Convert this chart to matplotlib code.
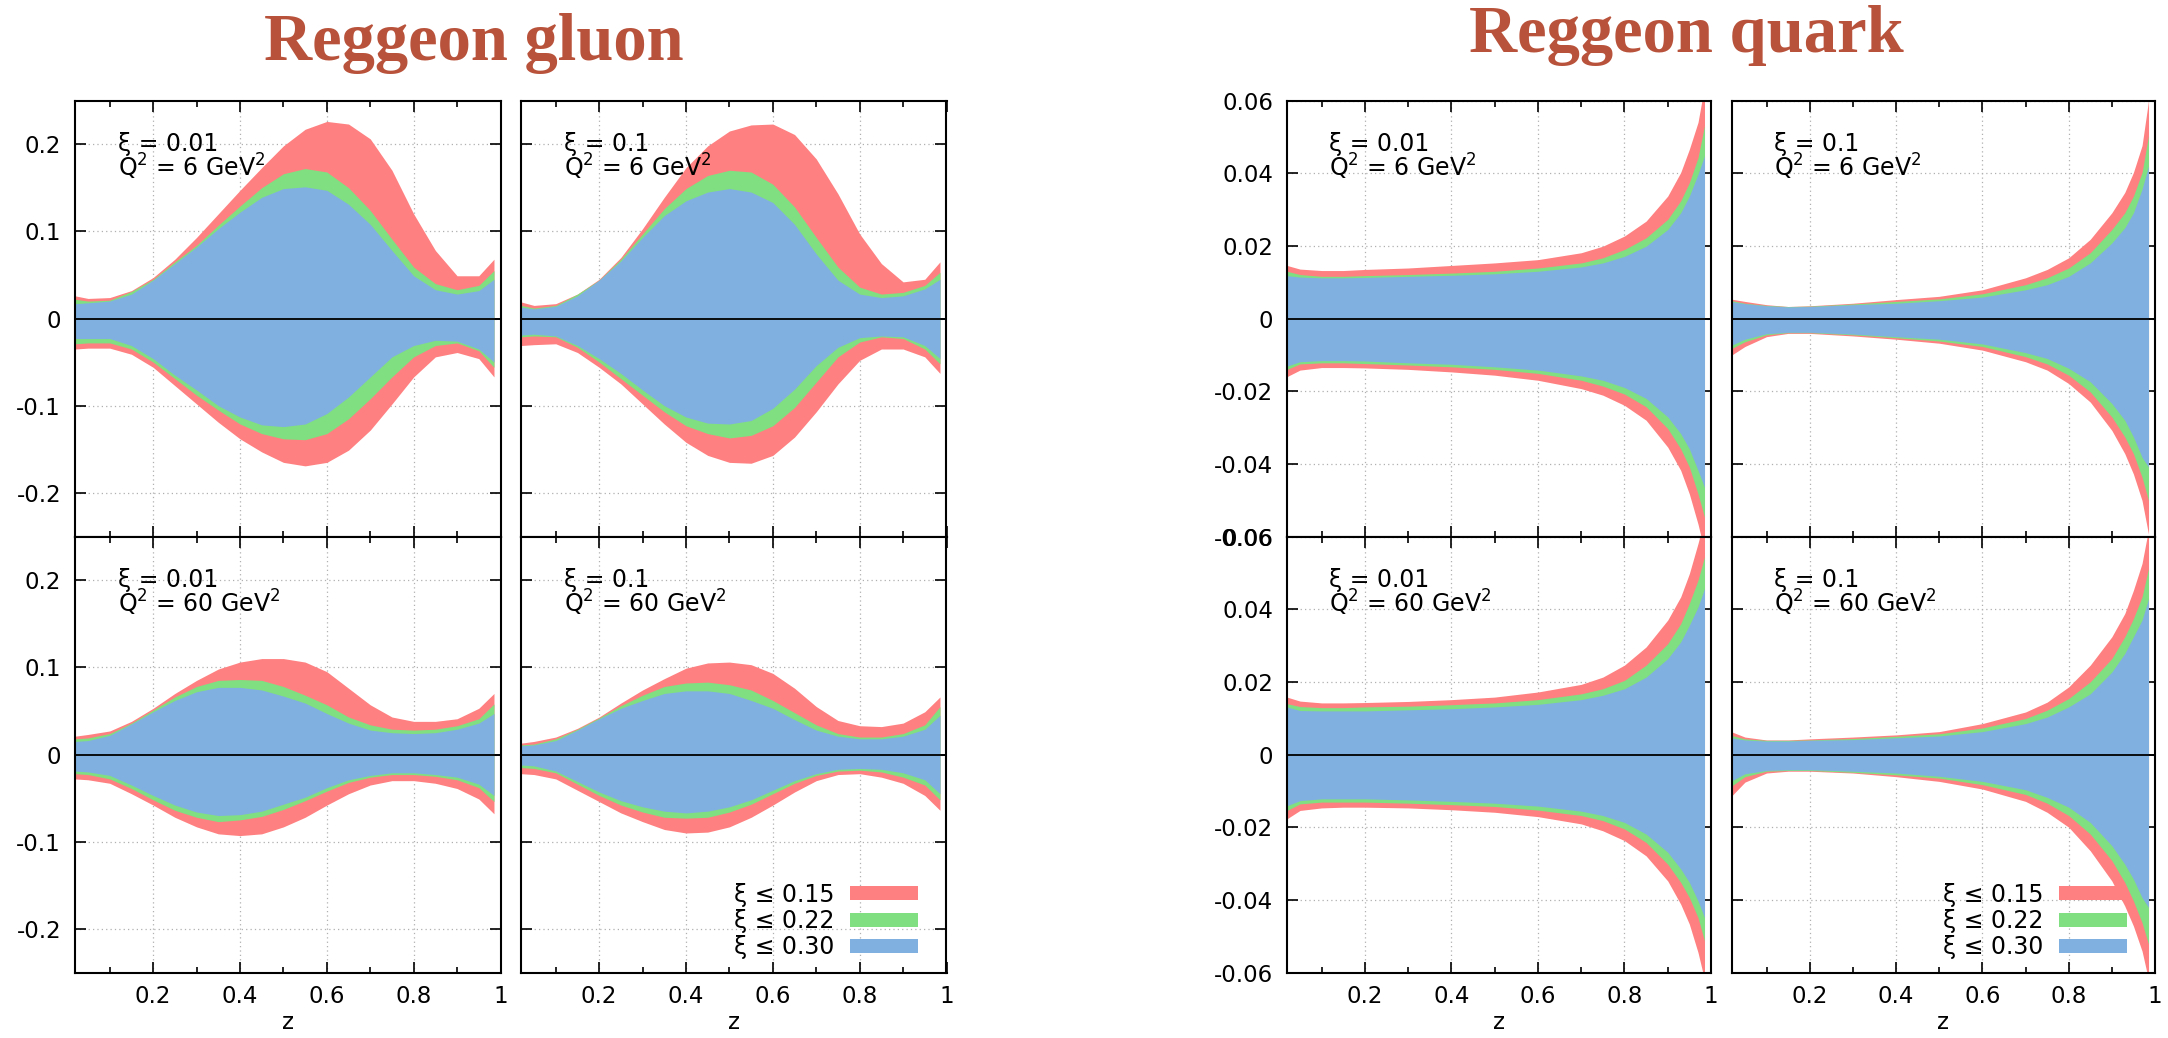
import matplotlib
matplotlib.use("Agg")
import matplotlib.pyplot as plt

plt.rcParams['font.family'] = ['DejaVu Sans']
plt.rcParams['axes.unicode_minus'] = False
plt.rcParams['mathtext.fontset'] = 'dejavusans'

# z grids for the two parton types
z_gluon = [0.02, 0.05, 0.1, 0.15, 0.2, 0.25, 0.3, 0.35, 0.4, 0.45, 0.5,
           0.55, 0.6, 0.65, 0.7, 0.75, 0.8, 0.85, 0.9, 0.95, 0.985]
z_quark = [0.02, 0.05, 0.1, 0.15, 0.2, 0.3, 0.4, 0.5, 0.6, 0.7, 0.75,
           0.8, 0.85, 0.9, 0.93, 0.95, 0.97, 0.985]

band_labels = ['ξ ≤ 0.15', 'ξ ≤ 0.22', 'ξ ≤ 0.30']
band_colors = ['#ff8080', '#80df80', '#80b0e0']

# gluon, xi = 0.01, Q^2 = 6 GeV^2
ga_red_hi = [0.026, 0.023, 0.024, 0.032, 0.047, 0.068, 0.093, 0.120, 0.147, 0.173, 0.198,
             0.217, 0.226, 0.223, 0.206, 0.170, 0.120, 0.078, 0.049, 0.049, 0.068]
ga_grn_hi = [0.022, 0.020, 0.021, 0.031, 0.045, 0.065, 0.084, 0.107, 0.129, 0.150, 0.166,
             0.172, 0.168, 0.150, 0.124, 0.091, 0.059, 0.040, 0.033, 0.038, 0.055]
ga_blu_hi = [0.017, 0.018, 0.020, 0.028, 0.044, 0.063, 0.082, 0.103, 0.122, 0.139, 0.149,
             0.151, 0.147, 0.131, 0.108, 0.078, 0.049, 0.033, 0.028, 0.032, 0.045]
ga_red_lo = [-0.035, -0.034, -0.034, -0.041, -0.056, -0.077, -0.098, -0.119, -0.138, -0.153, -0.165,
             -0.169, -0.165, -0.151, -0.128, -0.098, -0.067, -0.044, -0.039, -0.046, -0.067]
ga_grn_lo = [-0.029, -0.028, -0.028, -0.035, -0.050, -0.069, -0.088, -0.105, -0.121, -0.132, -0.138,
             -0.139, -0.132, -0.115, -0.092, -0.067, -0.044, -0.031, -0.028, -0.037, -0.056]
ga_blu_lo = [-0.023, -0.023, -0.023, -0.031, -0.046, -0.065, -0.082, -0.100, -0.113, -0.122, -0.124,
             -0.121, -0.109, -0.090, -0.067, -0.044, -0.031, -0.025, -0.026, -0.035, -0.050]

# gluon, xi = 0.1, Q^2 = 6 GeV^2
gb_red_hi = [0.019, 0.015, 0.017, 0.028, 0.045, 0.070, 0.103, 0.139, 0.173, 0.198, 0.215,
             0.222, 0.223, 0.211, 0.183, 0.143, 0.097, 0.063, 0.042, 0.045, 0.065]
gb_grn_hi = [0.015, 0.012, 0.015, 0.028, 0.044, 0.068, 0.097, 0.126, 0.149, 0.164, 0.170,
             0.168, 0.154, 0.128, 0.093, 0.059, 0.036, 0.028, 0.030, 0.038, 0.053]
gb_blu_hi = [0.013, 0.011, 0.014, 0.026, 0.044, 0.066, 0.093, 0.118, 0.135, 0.145, 0.149,
             0.145, 0.133, 0.108, 0.074, 0.044, 0.028, 0.024, 0.026, 0.034, 0.045]
gb_red_lo = [-0.031, -0.030, -0.029, -0.039, -0.056, -0.075, -0.098, -0.121, -0.142, -0.157, -0.165,
             -0.166, -0.157, -0.136, -0.107, -0.075, -0.048, -0.035, -0.035, -0.044, -0.063]
gb_grn_lo = [-0.021, -0.020, -0.021, -0.033, -0.050, -0.069, -0.088, -0.107, -0.123, -0.132, -0.137,
             -0.134, -0.123, -0.102, -0.073, -0.044, -0.027, -0.021, -0.023, -0.035, -0.052]
gb_blu_lo = [-0.019, -0.018, -0.020, -0.031, -0.046, -0.063, -0.082, -0.100, -0.113, -0.120, -0.121,
             -0.117, -0.103, -0.081, -0.054, -0.033, -0.022, -0.020, -0.021, -0.031, -0.046]

# gluon, xi = 0.01, Q^2 = 60 GeV^2
gc_red_hi = [0.021, 0.023, 0.027, 0.038, 0.053, 0.070, 0.085, 0.098, 0.106, 0.110, 0.110,
             0.106, 0.095, 0.076, 0.057, 0.043, 0.038, 0.038, 0.041, 0.053, 0.070]
gc_grn_hi = [0.018, 0.019, 0.024, 0.036, 0.051, 0.066, 0.078, 0.085, 0.086, 0.085, 0.078,
             0.068, 0.057, 0.043, 0.034, 0.029, 0.028, 0.029, 0.033, 0.041, 0.058]
gc_blu_hi = [0.015, 0.016, 0.022, 0.035, 0.049, 0.062, 0.072, 0.077, 0.077, 0.074, 0.067,
             0.059, 0.047, 0.036, 0.028, 0.025, 0.024, 0.025, 0.029, 0.036, 0.047]
gc_red_lo = [-0.028, -0.029, -0.033, -0.045, -0.058, -0.072, -0.083, -0.091, -0.093, -0.091, -0.083,
             -0.072, -0.058, -0.045, -0.035, -0.030, -0.030, -0.033, -0.039, -0.051, -0.068]
gc_grn_lo = [-0.022, -0.023, -0.028, -0.039, -0.052, -0.064, -0.072, -0.077, -0.075, -0.071, -0.063,
             -0.053, -0.042, -0.032, -0.026, -0.023, -0.023, -0.025, -0.029, -0.038, -0.054]
gc_blu_lo = [-0.019, -0.020, -0.024, -0.035, -0.047, -0.058, -0.066, -0.070, -0.069, -0.065, -0.057,
             -0.049, -0.038, -0.029, -0.024, -0.021, -0.021, -0.023, -0.026, -0.034, -0.047]

# gluon, xi = 0.1, Q^2 = 60 GeV^2
gd_red_hi = [0.013, 0.015, 0.020, 0.030, 0.043, 0.059, 0.074, 0.087, 0.099, 0.105, 0.106,
             0.103, 0.093, 0.076, 0.055, 0.039, 0.033, 0.032, 0.036, 0.049, 0.066]
gd_grn_hi = [0.011, 0.012, 0.018, 0.029, 0.042, 0.056, 0.068, 0.078, 0.082, 0.083, 0.080,
             0.074, 0.062, 0.048, 0.034, 0.024, 0.020, 0.020, 0.024, 0.034, 0.055]
gd_blu_hi = [0.010, 0.011, 0.016, 0.028, 0.041, 0.053, 0.062, 0.070, 0.073, 0.073, 0.070,
             0.062, 0.053, 0.040, 0.028, 0.021, 0.018, 0.018, 0.021, 0.029, 0.045]
gd_red_lo = [-0.022, -0.023, -0.028, -0.041, -0.054, -0.067, -0.077, -0.086, -0.090, -0.089, -0.083,
             -0.072, -0.058, -0.043, -0.030, -0.023, -0.022, -0.026, -0.033, -0.047, -0.064]
gd_grn_lo = [-0.015, -0.016, -0.021, -0.034, -0.047, -0.058, -0.066, -0.072, -0.073, -0.072, -0.066,
             -0.057, -0.045, -0.033, -0.024, -0.019, -0.018, -0.020, -0.026, -0.035, -0.052]
gd_blu_lo = [-0.012, -0.013, -0.019, -0.031, -0.043, -0.053, -0.060, -0.065, -0.067, -0.065, -0.060,
             -0.052, -0.041, -0.030, -0.022, -0.017, -0.016, -0.017, -0.021, -0.029, -0.045]

# quark, xi = 0.01, Q^2 = 6 GeV^2
qa_red_hi = [0.0146, 0.0136, 0.0132, 0.0132, 0.0135, 0.0139, 0.0146, 0.0153, 0.0162,
             0.0181, 0.0199, 0.0227, 0.0268, 0.0337, 0.0402, 0.0466, 0.0540, 0.0640]
qa_grn_hi = [0.0130, 0.0121, 0.0116, 0.0116, 0.0118, 0.0121, 0.0125, 0.0130, 0.0139,
             0.0153, 0.0167, 0.0190, 0.0222, 0.0273, 0.0324, 0.0374, 0.0443, 0.0531]
qa_blu_hi = [0.0118, 0.0114, 0.0112, 0.0112, 0.0113, 0.0116, 0.0119, 0.0123, 0.0130,
             0.0142, 0.0153, 0.0171, 0.0199, 0.0245, 0.0291, 0.0337, 0.0397, 0.0448]
qa_red_lo = [-0.0160, -0.0142, -0.0135, -0.0135, -0.0136, -0.0140, -0.0147, -0.0156, -0.0170,
             -0.0193, -0.0211, -0.0239, -0.0280, -0.0354, -0.0418, -0.0483, -0.0566, -0.0640]
qa_grn_lo = [-0.0140, -0.0125, -0.0122, -0.0122, -0.0124, -0.0128, -0.0133, -0.0140, -0.0151,
             -0.0170, -0.0186, -0.0208, -0.0243, -0.0303, -0.0359, -0.0409, -0.0483, -0.0547]
qa_blu_lo = [-0.0131, -0.0119, -0.0116, -0.0116, -0.0117, -0.0122, -0.0126, -0.0133, -0.0142,
             -0.0158, -0.0170, -0.0190, -0.0220, -0.0271, -0.0317, -0.0359, -0.0418, -0.0465]

# quark, xi = 0.1, Q^2 = 6 GeV^2
qb_red_hi = [0.0053, 0.0047, 0.0038, 0.0033, 0.0035, 0.0042, 0.0052, 0.0061, 0.0079,
             0.0112, 0.0135, 0.0167, 0.0218, 0.0291, 0.0347, 0.0402, 0.0476, 0.0600]
qb_grn_hi = [0.0049, 0.0042, 0.0036, 0.0033, 0.0034, 0.0040, 0.0047, 0.0054, 0.0068,
             0.0093, 0.0112, 0.0139, 0.0181, 0.0245, 0.0291, 0.0337, 0.0402, 0.0503]
qb_blu_hi = [0.0046, 0.0041, 0.0035, 0.0032, 0.0033, 0.0038, 0.0042, 0.0049, 0.0059,
             0.0079, 0.0093, 0.0116, 0.0153, 0.0208, 0.0250, 0.0291, 0.0356, 0.0420]
qb_red_lo = [-0.0100, -0.0077, -0.0050, -0.0041, -0.0041, -0.0048, -0.0057, -0.0068, -0.0087,
             -0.0119, -0.0142, -0.0179, -0.0230, -0.0308, -0.0372, -0.0428, -0.0501, -0.0594]
qb_grn_lo = [-0.0082, -0.0064, -0.0045, -0.0039, -0.0039, -0.0045, -0.0053, -0.0062, -0.0077,
             -0.0105, -0.0125, -0.0156, -0.0202, -0.0271, -0.0326, -0.0372, -0.0437, -0.0501]
qb_blu_lo = [-0.0073, -0.0057, -0.0042, -0.0038, -0.0038, -0.0043, -0.0050, -0.0057, -0.0070,
             -0.0094, -0.0110, -0.0137, -0.0174, -0.0234, -0.0280, -0.0326, -0.0382, -0.0409]

# quark, xi = 0.01, Q^2 = 60 GeV^2
qc_red_hi = [0.0158, 0.0147, 0.0142, 0.0142, 0.0143, 0.0146, 0.0151, 0.0158, 0.0172,
             0.0193, 0.0213, 0.0246, 0.0296, 0.0370, 0.0434, 0.0498, 0.0581, 0.0650]
qc_grn_hi = [0.0140, 0.0132, 0.0129, 0.0129, 0.0131, 0.0133, 0.0137, 0.0142, 0.0151,
             0.0167, 0.0181, 0.0204, 0.0246, 0.0305, 0.0360, 0.0416, 0.0480, 0.0544]
qc_blu_hi = [0.0131, 0.0121, 0.0120, 0.0120, 0.0120, 0.0123, 0.0126, 0.0131, 0.0138,
             0.0151, 0.0163, 0.0181, 0.0213, 0.0264, 0.0310, 0.0356, 0.0406, 0.0457]
qc_red_lo = [-0.0177, -0.0154, -0.0147, -0.0145, -0.0145, -0.0147, -0.0152, -0.0159, -0.0171,
             -0.0191, -0.0210, -0.0237, -0.0279, -0.0348, -0.0412, -0.0467, -0.0545, -0.0620]
qc_grn_lo = [-0.0154, -0.0136, -0.0131, -0.0131, -0.0131, -0.0134, -0.0138, -0.0143, -0.0153,
             -0.0168, -0.0182, -0.0205, -0.0242, -0.0302, -0.0352, -0.0394, -0.0449, -0.0513]
qc_blu_lo = [-0.0141, -0.0127, -0.0122, -0.0122, -0.0122, -0.0125, -0.0129, -0.0134, -0.0142,
             -0.0156, -0.0168, -0.0187, -0.0219, -0.0269, -0.0315, -0.0352, -0.0403, -0.0449]

# quark, xi = 0.1, Q^2 = 60 GeV^2
qd_red_hi = [0.0062, 0.0048, 0.0040, 0.0040, 0.0043, 0.0048, 0.0054, 0.0063, 0.0085,
             0.0117, 0.0144, 0.0186, 0.0246, 0.0324, 0.0388, 0.0452, 0.0526, 0.0620]
qd_grn_hi = [0.0052, 0.0043, 0.0039, 0.0039, 0.0040, 0.0044, 0.0050, 0.0057, 0.0073,
             0.0099, 0.0122, 0.0154, 0.0200, 0.0264, 0.0324, 0.0374, 0.0434, 0.0512]
qd_blu_hi = [0.0046, 0.0040, 0.0037, 0.0037, 0.0039, 0.0041, 0.0046, 0.0051, 0.0063,
             0.0085, 0.0103, 0.0131, 0.0167, 0.0227, 0.0278, 0.0324, 0.0370, 0.0429]
qd_red_lo = [-0.0113, -0.0076, -0.0051, -0.0046, -0.0046, -0.0051, -0.0061, -0.0074, -0.0095,
             -0.0129, -0.0159, -0.0200, -0.0265, -0.0348, -0.0417, -0.0472, -0.0541, -0.0620]
qd_grn_lo = [-0.0086, -0.0061, -0.0046, -0.0044, -0.0044, -0.0049, -0.0056, -0.0065, -0.0083,
             -0.0110, -0.0134, -0.0168, -0.0219, -0.0292, -0.0352, -0.0403, -0.0463, -0.0522]
qd_blu_lo = [-0.0072, -0.0053, -0.0044, -0.0042, -0.0042, -0.0046, -0.0051, -0.0060, -0.0074,
             -0.0097, -0.0118, -0.0145, -0.0187, -0.0251, -0.0302, -0.0343, -0.0394, -0.0421]

x_ticks = [0.2, 0.4, 0.6, 0.8, 1.0]
x_ticklabels = ['0.2', '0.4', '0.6', '0.8', '1']
x_minor = [0.1, 0.3, 0.5, 0.7, 0.9]
gluon_yticks = [-0.2, -0.1, 0.0, 0.1, 0.2]
gluon_ylabels = ['-0.2', '-0.1', '0', '0.1', '0.2']
quark_yticks = [-0.06, -0.04, -0.02, 0.0, 0.02, 0.04, 0.06]
quark_ylabels = ['-0.06', '-0.04', '-0.02', '0', '0.02', '0.04', '0.06']

W, H = 2168, 1038
fig = plt.figure(figsize=(W / 100, H / 100), dpi=100)

TICK_FS = 16.5
TEXT_FS = 17


def panel_rect(x0, x1, y0, y1):
    return [x0 / W, 1 - y1 / H, (x1 - x0) / W, (y1 - y0) / H]


def draw_panel(rect, z, bands, ylim, yticks, ylabels, left, bottom, xi, q2, legend=False):
    ax = fig.add_axes(rect)
    handles = []
    for (lo, hi), c, lab in zip(bands, band_colors, band_labels):
        h = ax.fill_between(z, lo, hi, color=c, lw=0, label=lab, zorder=2)
        handles.append(h)
    ax.axhline(0, color='black', lw=1.3, zorder=3)
    ax.set_xlim(0.02, 1.0)
    ax.set_ylim(*ylim)
    ax.set_xticks(x_ticks)
    ax.set_xticks(x_minor, minor=True)
    ax.set_yticks(yticks)
    if bottom:
        ax.set_xticklabels(x_ticklabels)
        ax.set_xlabel('z', fontsize=TICK_FS, labelpad=2)
    else:
        ax.set_xticklabels([])
    if left:
        ax.set_yticklabels(ylabels)
    else:
        ax.set_yticklabels([])
    ax.tick_params(which='both', direction='in', top=True, right=True,
                   labelsize=TICK_FS, width=1.2, color='black')
    ax.tick_params(which='major', length=8)
    ax.tick_params(which='minor', length=4)
    ax.tick_params(axis='x', pad=9)
    ax.tick_params(axis='y', pad=10)
    ax.grid(True, which='major', color='#b0b0b0', lw=0.9, ls=(0, (1, 2.5)))
    ax.set_axisbelow(True)
    for s in ax.spines.values():
        s.set_linewidth(1.5)
    ax.text(0.10, 0.885, 'ξ = ' + xi, transform=ax.transAxes, fontsize=TEXT_FS, va='baseline')
    ax.text(0.10, 0.826, 'Q$^2$ = ' + q2 + ' GeV$^2$', transform=ax.transAxes,
            fontsize=TEXT_FS, va='baseline')
    if legend:
        ax.legend(handles=handles, loc='lower right', bbox_to_anchor=(0.934, 0.03),
                  frameon=False, markerfirst=False, fontsize=TEXT_FS, borderpad=0,
                  borderaxespad=0, handlelength=2.9, handleheight=0.55,
                  labelspacing=0.1, handletextpad=0.65)
    return ax


top_row = (100.5, 536.5)
bot_row = (536.5, 972.5)
g_cols = [(75, 500.5), (521, 946.5)]
q_cols = [(1287, 1711), (1732, 2155)]

g_lim = (-0.25, 0.25)
q_lim = (-0.06, 0.06)

draw_panel(panel_rect(*g_cols[0], *top_row), z_gluon,
           [(ga_red_lo, ga_red_hi), (ga_grn_lo, ga_grn_hi), (ga_blu_lo, ga_blu_hi)],
           g_lim, gluon_yticks, gluon_ylabels, True, False, '0.01', '6')
draw_panel(panel_rect(*g_cols[1], *top_row), z_gluon,
           [(gb_red_lo, gb_red_hi), (gb_grn_lo, gb_grn_hi), (gb_blu_lo, gb_blu_hi)],
           g_lim, gluon_yticks, gluon_ylabels, False, False, '0.1', '6')
draw_panel(panel_rect(*g_cols[0], *bot_row), z_gluon,
           [(gc_red_lo, gc_red_hi), (gc_grn_lo, gc_grn_hi), (gc_blu_lo, gc_blu_hi)],
           g_lim, gluon_yticks, gluon_ylabels, True, True, '0.01', '60')
draw_panel(panel_rect(*g_cols[1], *bot_row), z_gluon,
           [(gd_red_lo, gd_red_hi), (gd_grn_lo, gd_grn_hi), (gd_blu_lo, gd_blu_hi)],
           g_lim, gluon_yticks, gluon_ylabels, False, True, '0.1', '60', legend=True)

draw_panel(panel_rect(*q_cols[0], *top_row), z_quark,
           [(qa_red_lo, qa_red_hi), (qa_grn_lo, qa_grn_hi), (qa_blu_lo, qa_blu_hi)],
           q_lim, quark_yticks, quark_ylabels, True, False, '0.01', '6')
draw_panel(panel_rect(*q_cols[1], *top_row), z_quark,
           [(qb_red_lo, qb_red_hi), (qb_grn_lo, qb_grn_hi), (qb_blu_lo, qb_blu_hi)],
           q_lim, quark_yticks, quark_ylabels, False, False, '0.1', '6')
draw_panel(panel_rect(*q_cols[0], *bot_row), z_quark,
           [(qc_red_lo, qc_red_hi), (qc_grn_lo, qc_grn_hi), (qc_blu_lo, qc_blu_hi)],
           q_lim, quark_yticks, quark_ylabels, True, True, '0.01', '60')
draw_panel(panel_rect(*q_cols[1], *bot_row), z_quark,
           [(qd_red_lo, qd_red_hi), (qd_grn_lo, qd_grn_hi), (qd_blu_lo, qd_blu_hi)],
           q_lim, quark_yticks, quark_ylabels, False, True, '0.1', '60', legend=True)

title_kw = dict(ha='center', va='baseline', fontsize=48, family='Liberation Serif',
                weight='bold', color='#b9523a')
fig.text(474 / W, 1 - 60 / H, 'Reggeon gluon', **title_kw)
fig.text(1686 / W, 1 - 52 / H, 'Reggeon quark', **title_kw)

fig.savefig('out.png', dpi=100)
